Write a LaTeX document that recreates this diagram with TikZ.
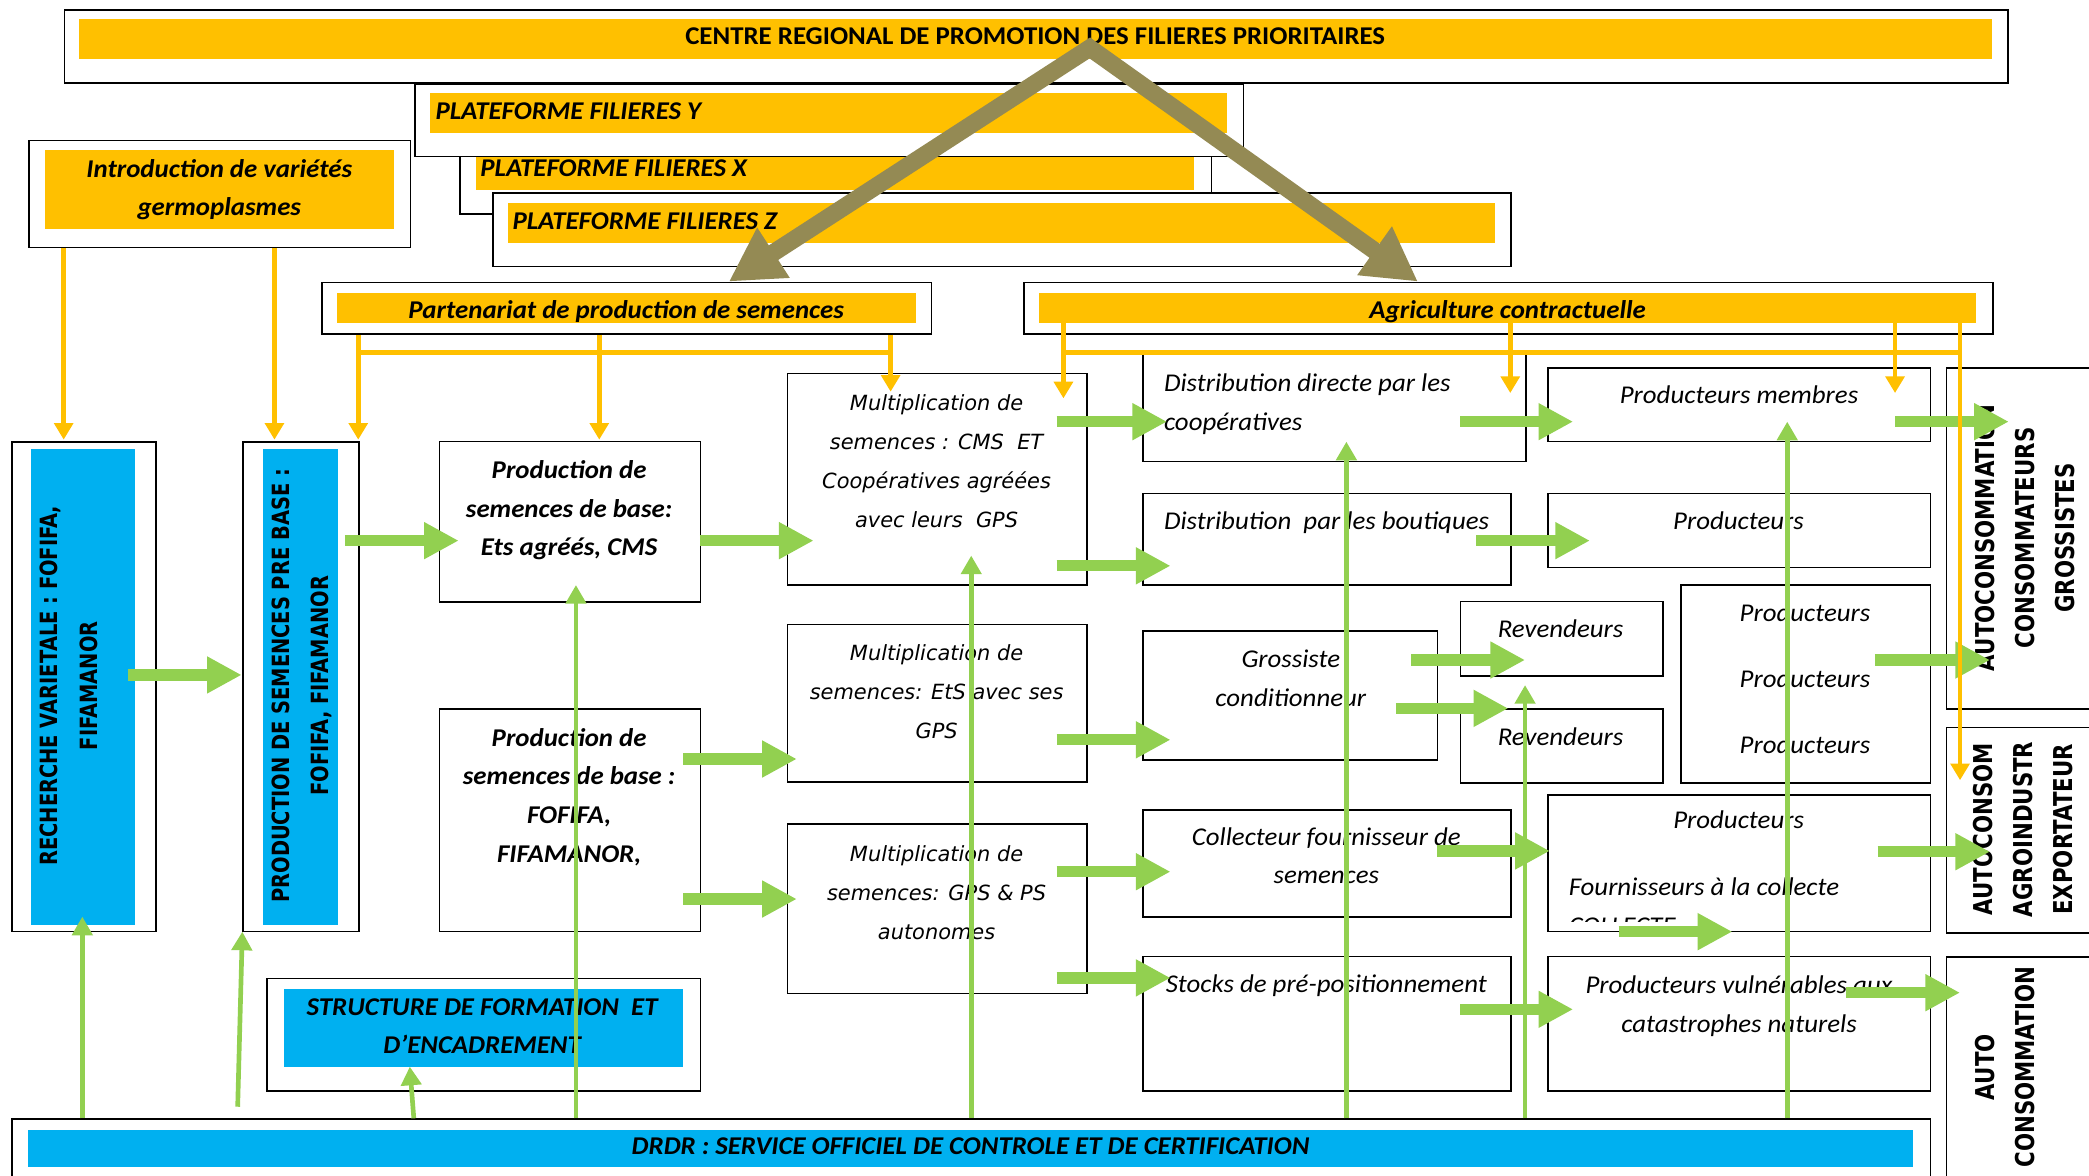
\documentclass[tikz,border=0pt]{standalone}
\usepackage{fontspec}
\setmainfont{Carlito}[FakeStretch=1.05]
\newfontfamily\wideface{DejaVu Sans}
\newfontfamily\narrowface[FakeStretch=0.82]{DejaVu Sans}
\usetikzlibrary{arrows.meta}

\definecolor{cyellow}{HTML}{FFC000}
\definecolor{cblue}{HTML}{00B0F0}
\definecolor{cgreen}{HTML}{92D050}
\definecolor{colive}{HTML}{948A54}

\tikzset{
  frame/.style={draw=black,line width=1.2bp,fill=white,inner sep=0pt,anchor=north west},
  ybar/.style={fill=cyellow,draw=none,inner sep=0pt,anchor=north west},
  bbar/.style={fill=cblue,draw=none,inner sep=0pt,anchor=north west},
  sz/.style 2 args={minimum width=#1bp,minimum height=#2bp},
  txt/.style={inner sep=0pt,align=center,execute at begin node=\strut,execute at end node=\strut},
  cbold/.style={txt,font=\fontsize{19.2bp}{29bp}\selectfont\bfseries},
  cbit/.style={txt,font=\fontsize{19.2bp}{29bp}\selectfont\bfseries\itshape},
  cit/.style={txt,font=\fontsize{19.2bp}{29bp}\selectfont\itshape},
  vit/.style={txt,font=\wideface\fontsize{15.7bp}{29.3bp}\selectfont\itshape},
  vlbl/.style={txt,rotate=90,font=\narrowface\fontsize{17.8bp}{29.5bp}\selectfont\bfseries},
  vrbl/.style={txt,rotate=90,font=\narrowface\fontsize{19.5bp}{30bp}\selectfont\bfseries},
  garrow/.style={draw=cgreen,line width=8.5bp,-{Triangle[length=26bp,width=26bp]}},
  tarrow/.style={draw=cgreen,line width=3.5bp,-{Triangle[length=14bp,width=15bp]}},
  yarrow/.style={draw=cyellow,line width=3.5bp,-{Triangle[length=12.5bp,width=14bp]}},
  yline/.style={draw=cyellow,line width=3.5bp,line cap=rect},
  oarrow/.style={draw=colive,line width=13bp,line join=miter,
    {Triangle[length=40bp,width=42bp]}-{Triangle[length=40bp,width=42bp]}},
}

% horizontal block arrow: name, start x, tip x, y
\newcommand\hgarrow[4]{%
  \coordinate (#1-s) at (#2,#4);
  \coordinate (#1-t) at (#3,#4);
  \draw[garrow] (#1-s) -- (#1-t);}

\begin{document}
\begin{tikzpicture}[x=1bp,y=-1bp]
\useasboundingbox (0,0) rectangle (1568,882.7);
\clip (0,0) rectangle (1568,882.7);

% ---------- top band ----------
\node[frame,sz={1459}{55}] (centre) at (47.7,6.8) {};
\node[ybar,sz={1435.3}{30}] (centrebar) at (59.3,14.3) {};
\node[cbold] (centretxt) at (777,27.6) {CENTRE REGIONAL DE PROMOTION DES FILIERES PRIORITAIRES};

\node[frame,sz={563.9}{60}] (platX) at (344.8,100) {};
\node[ybar,sz={538.6}{25}] (platXbar) at (357.4,117.6) {};
\node[cbit,anchor=west] (platXtxt) at (360.4,126.6) {PLATEFORME FILIERES X};

\node[frame,sz={622}{54.3}] (platY) at (310.7,62.5) {};
\node[ybar,sz={598.3}{29.8}] (platYbar) at (322.7,69.8) {};
\node[cbit,anchor=west] (platYtxt) at (326.7,84.2) {PLATEFORME FILIERES Y};

\node[frame,sz={764.2}{55}] (platZ) at (369.4,144.4) {};
\node[ybar,sz={740.2}{29.8}] (platZbar) at (381.4,152.4) {};
\node[cbit,anchor=west] (platZtxt) at (384.5,166.7) {PLATEFORME FILIERES Z};

\node[frame,sz={286.5}{80.2}] (intro) at (21.1,105) {};
\node[ybar,sz={261.8}{59}] (introbar) at (33.7,112.6) {};
\node[cbit] (introtxt) at (164.6,145.2) {Introduction de variétés\\germoplasmes};

\node[frame,sz={457.3}{38.8}] (parten) at (241.3,211.4) {};
\node[ybar,sz={434.3}{22.8}] (partenbar) at (252.8,219.4) {};
\node[cbit] (partentxt) at (470,233.4) {Partenariat de production de semences};

\node[frame,sz={727.2}{38.8}] (agri) at (768,211.4) {};
\node[ybar,sz={702.6}{22.8}] (agribar) at (780,219.4) {};
\node[cbit] (agritxt) at (1131.6,233.4) {Agriculture contractuelle};

% ---------- research and pre-base seed ----------
\node[frame,sz={108}{367.5}] (rech) at (8.3,331) {};
\node[bbar,sz={78}{357.8}] (rechbar) at (23.3,336.5) {};
\node[vlbl] (rechtxt) at (56.1,514.7) {RECHERCHE VARIETALE : FOFIFA,\\FIFAMANOR};

\node[frame,sz={87}{367.5}] (pbase) at (181.9,331) {};
\node[bbar,sz={56.5}{357.8}] (pbasebar) at (196.9,336.5) {};
\node[vlbl] (pbasetxt) at (229.5,514.8) {PRODUCTION DE SEMENCES PRE BASE :\\FOFIFA, FIFAMANOR};

% ---------- base seed ----------
\node[frame,sz={196.1}{120.3}] (prodA) at (329.2,330.8) {};
\node[cbit] (prodAtxt) at (427.2,385.8) {Production de\\semences de base:\\Ets agréés, CMS};
\node[frame,sz={196.1}{166.8}] (prodB) at (329.2,531.7) {};
\node[cbit] (prodBtxt) at (427.2,601.2) {Production de\\semences de base :\\FOFIFA,\\FIFAMANOR,};

% ---------- multiplication ----------
\node[frame,sz={224.7}{158.7}] (m1) at (590.4,279.8) {};
\node[vit] (m1txt) at (703,350.3) {Multiplication de\\semences : CMS \ ET\\Coopératives agréées\\avec leurs \ GPS};
\node[frame,sz={224.7}{118.4}] (m2) at (590.4,468) {};
\node[vit] (m2txt) at (703,523.8) {Multiplication de\\semences: EtS avec ses\\GPS};
\node[frame,sz={224.7}{126.9}] (m3) at (590.4,618.1) {};
\node[vit] (m3txt) at (703,674) {Multiplication de\\semences: GPS \& PS\\autonomes};

% ---------- distribution ----------
\node[frame,sz={287.2}{81.1}] (d1) at (857.5,264.7) {};
\node[cit,anchor=west,align=left] (d1txt) at (873.5,306.3) {Distribution directe par les\\coopératives};
\node[frame,sz={276.1}{68.8}] (d2) at (857.5,369.8) {};
\node[cit,anchor=west] (d2txt) at (873.5,391.3) {Distribution \ par les boutiques};
\node[frame,sz={220.9}{96.8}] (d3) at (857.5,472.9) {};
\node[cit] (d3txt) at (968.9,513.3) {Grossiste\\conditionneur};
\node[frame,sz={276.1}{80.3}] (d4) at (857.5,607.2) {};
\node[cit] (d4txt) at (995.5,646.6) {Collecteur fournisseur de\\semences};
\node[frame,sz={276.1}{100.8}] (d5) at (857.5,717.3) {};
\node[cit] (d5txt) at (995.5,739) {Stocks de pré-positionnement};

% ---------- resellers and producers ----------
\node[frame,sz={152.1}{55.7}] (rev1) at (1095.5,450.9) {};
\node[cit] (rev1txt) at (1171.3,472.6) {Revendeurs};
\node[frame,sz={152.1}{55.5}] (rev2) at (1095.5,531.7) {};
\node[cit] (rev2txt) at (1171.3,553.9) {Revendeurs};

\node[frame,sz={287.3}{55.1}] (pm) at (1161.2,275.7) {};
\node[cit] (pmtxt) at (1305.3,297.4) {Producteurs membres};
\node[frame,sz={287.3}{55.5}] (p2) at (1161.2,369.8) {};
\node[cit] (p2txt) at (1304.9,391.3) {Producteurs};
\node[frame,sz={187.3}{148.9}] (p3) at (1261.2,438.3) {};
\node[cit] (p3txt) at (1354.8,513.5) {Producteurs\\[20.4bp]Producteurs\\[20.4bp]Producteurs};
\node[frame,sz={287.3}{102.5}] (pf) at (1161.2,596) {};
\node[cit] (pftxt) at (1305,616.4) {Producteurs};
\node[cit,anchor=west] (pftxt2) at (1177.3,666.5) {Fournisseurs à la collecte};
\begin{scope}
  \clip (1170,680) rectangle (1300,692);
  \node[cit,anchor=west] (pftxt3) at (1177.3,695.5) {COLLECTE};
\end{scope}
\node[frame,sz={287.3}{100.8}] (pv) at (1161.2,717.3) {};
\node[cit] (pvtxt) at (1305.3,757.9) {Producteurs vulnérables aux\\catastrophes naturels};

% ---------- outlets ----------
\node[frame,sz={150}{255.9}] (r1) at (1460.4,275.8) {};
\node[vrbl] (r1txt) at (1524,403.7) {AUTOCONSOMMATION\\CONSOMMATEURS\\GROSSISTES};
\node[frame,sz={150}{154.3}] (r2) at (1460.4,545.4) {};
\node[vrbl] (r2txt) at (1523,622.5) {AUTOCONSOM\\AGROINDUSTR\\EXPORTATEUR};
\node[frame,sz={150}{180}] (r3) at (1460.4,717.5) {};
\node[vrbl] (r3txt) at (1509,801) {AUTO\\CONSOMMATION};

% ---------- training and control ----------
\node[frame,sz={325.3}{84.3}] (struct) at (200,733.8) {};
\node[bbar,sz={299.6}{58.8}] (structbar) at (213.1,741.8) {};
\node[cbit] (structtxt) at (361.9,774.5) {STRUCTURE DE FORMATION \ ET\\D’ENCADREMENT};

\node[frame,sz={1440}{60}] (drdr) at (8.5,839.4) {};
\node[bbar,sz={1414.8}{28}] (drdrbar) at (21.1,847.7) {};
\node[cbit] (drdrtxt) at (728.5,860.9) {DRDR : SERVICE OFFICIEL DE CONTROLE ET DE CERTIFICATION};

% ---------- flows of seed ----------
\hgarrow{g1}{96.3}{181.4}{506.6}
\hgarrow{g2}{258.9}{344.3}{405.8}
\hgarrow{g3}{525.3}{610.7}{405.8}
\hgarrow{g4}{512.7}{598.1}{569.7}
\hgarrow{g5}{512.7}{598.1}{674.8}
\hgarrow{g6}{793.1}{876}{316.5}
\hgarrow{g7}{793.1}{878.6}{424.7}
\hgarrow{g8}{793.1}{878.6}{555.3}
\hgarrow{g9}{793.1}{878.6}{654.3}
\hgarrow{g10}{793.1}{878.6}{734}
\hgarrow{g11}{1096}{1180.8}{316.5}
\hgarrow{g12}{1108}{1193.4}{405.8}
\hgarrow{g13}{1059.3}{1144.7}{495.4}
\hgarrow{g14}{1047.7}{1132.1}{531.7}
\hgarrow{g15}{1078.4}{1163.3}{638.7}
\hgarrow{g16}{1096}{1180.8}{757.6}
\hgarrow{g17}{1215}{1300.3}{699.3}
\hgarrow{g18}{1422.4}{1507.8}{316.5}
\hgarrow{g19}{1407.3}{1493.7}{495.4}
\hgarrow{g20}{1409.3}{1493.7}{639.3}
\hgarrow{g21}{1385.7}{1471.2}{745.1}

% ---------- control links from DRDR ----------
\coordinate (ta) at (61.8,688);
\coordinate (tb0) at (178.4,830.7);
\coordinate (tb) at (181.9,699.3);
\coordinate (tc0) at (310.6,839.4);
\coordinate (tc) at (307.6,800.6);
\coordinate (td) at (432.3,439.1);
\coordinate (te) at (729,417);
\coordinate (tf) at (1010.6,331.5);
\coordinate (tg) at (1144.7,514.2);
\coordinate (th) at (1341.5,316.5);
\draw[tarrow] (drdr.north -| ta) -- (ta);
\draw[tarrow] (tb0) -- (tb);
\draw[tarrow] (tc0) -- (tc);
\draw[tarrow] (drdr.north -| td) -- (td);
\draw[tarrow] (drdr.north -| te) -- (te);
\draw[tarrow] (drdr.north -| tf) -- (tf);
\draw[tarrow] (drdr.north -| tg) -- (tg);
\draw[tarrow] (drdr.north -| th) -- (th);

% ---------- yellow distribution links ----------
\coordinate (yi1) at (47.8,330);
\coordinate (yi2) at (206,330);
\draw[yarrow] (intro.south -| yi1) -- (yi1);
\draw[yarrow] (intro.south -| yi2) -- (yi2);

\coordinate (bus) at (0,264.7);
\coordinate (yp1) at (268.9,330);
\coordinate (yp2) at (449.8,330);
\coordinate (yp3) at (668.5,294);
\draw[yline] (yp1 |- bus) -- (yp3 |- bus);
\draw[yarrow] (parten.south -| yp1) -- (yp1);
\draw[yarrow] (parten.south -| yp2) -- (yp2);
\draw[yarrow] (parten.south -| yp3) -- (yp3);

\coordinate (ya1) at (798.2,299);
\coordinate (ya2) at (1133.6,295);
\coordinate (ya3) at (1422.4,295);
\coordinate (ya4) at (1471.2,585.6);
\draw[yline] (ya1 |- bus) -- (ya4 |- bus);
\draw[yarrow] (agribar.south -| ya1) -- (ya1);
\draw[yarrow] (agribar.south -| ya2) -- (ya2);
\draw[yarrow] (agribar.south -| ya3) -- (ya3);
\draw[yarrow] (agribar.south -| ya4) -- (ya4);

% ---------- regional centre to the two programmes ----------
\coordinate (oapex) at (818,36);
\coordinate (oleft) at (547,211.4);
\coordinate (oright) at (1064.3,211.4);
\draw[oarrow] (oleft) -- (oapex) -- (oright);

\end{tikzpicture}
\end{document}
